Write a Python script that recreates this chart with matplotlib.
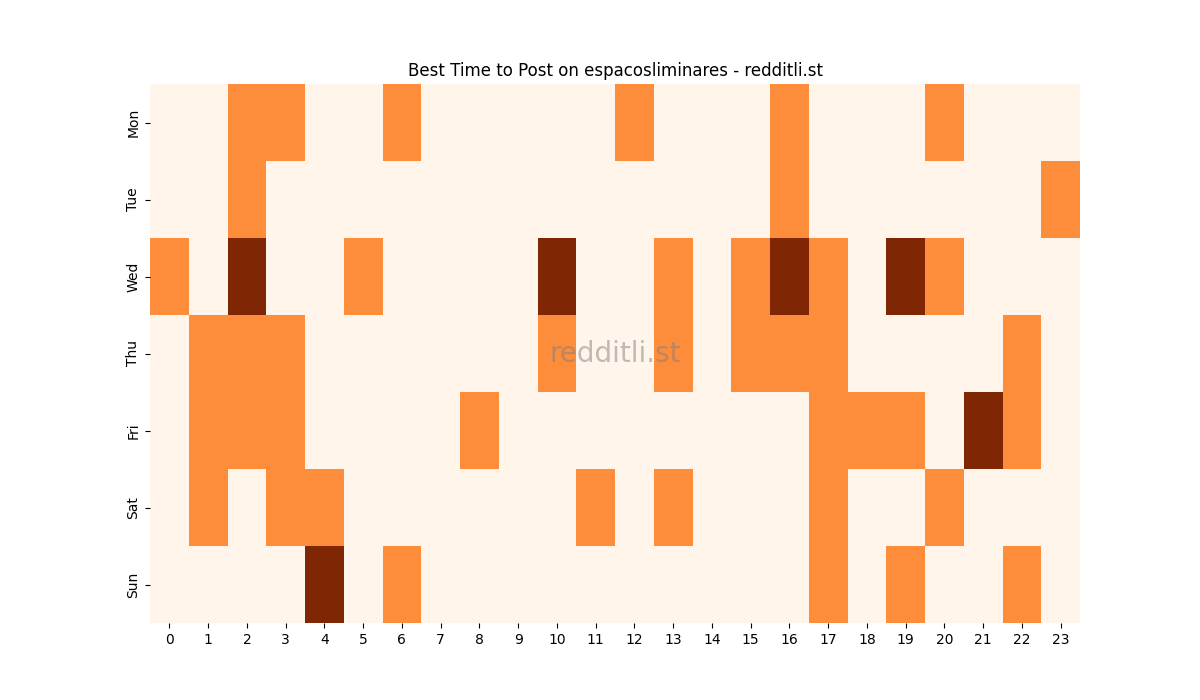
import numpy as np
import matplotlib
matplotlib.use("Agg")
import matplotlib.pyplot as plt
import seaborn as sns

days = ["Mon", "Tue", "Wed", "Thu", "Fri", "Sat", "Sun"]
hours = list(range(24))

# cells marked per day: hour -> level (1 = good, 2 = best)
mon = {2: 1, 3: 1, 6: 1, 12: 1, 16: 1, 20: 1}
tue = {2: 1, 16: 1, 23: 1}
wed = {0: 1, 2: 2, 5: 1, 10: 2, 13: 1, 15: 1, 16: 2, 17: 1, 19: 2, 20: 1}
thu = {1: 1, 2: 1, 3: 1, 10: 1, 13: 1, 15: 1, 16: 1, 17: 1, 22: 1}
fri = {1: 1, 2: 1, 3: 1, 8: 1, 17: 1, 18: 1, 19: 1, 21: 2, 22: 1}
sat = {1: 1, 3: 1, 4: 1, 11: 1, 13: 1, 17: 1, 20: 1}
sun = {4: 2, 6: 1, 17: 1, 19: 1, 22: 1}

week = [mon, tue, wed, thu, fri, sat, sun]
grid = np.zeros((len(days), len(hours)))
for r, d in enumerate(week):
    for h, v in d.items():
        grid[r, h] = v

fig, ax = plt.subplots(figsize=(12, 7), dpi=100)
sns.heatmap(grid, cmap="Oranges", cbar=False, ax=ax,
            xticklabels=hours, yticklabels=days)
ax.set_yticklabels(days, rotation=90, va="center")
ax.set_xticklabels(hours, rotation=0)
ax.set_title("Best Time to Post on espacosliminares - redditli.st")
ax.text(0.5, 0.5, "redditli.st", transform=ax.transAxes, fontsize=20,
        color="gray", alpha=0.5, ha="center", va="center")

fig.savefig("out.png")
